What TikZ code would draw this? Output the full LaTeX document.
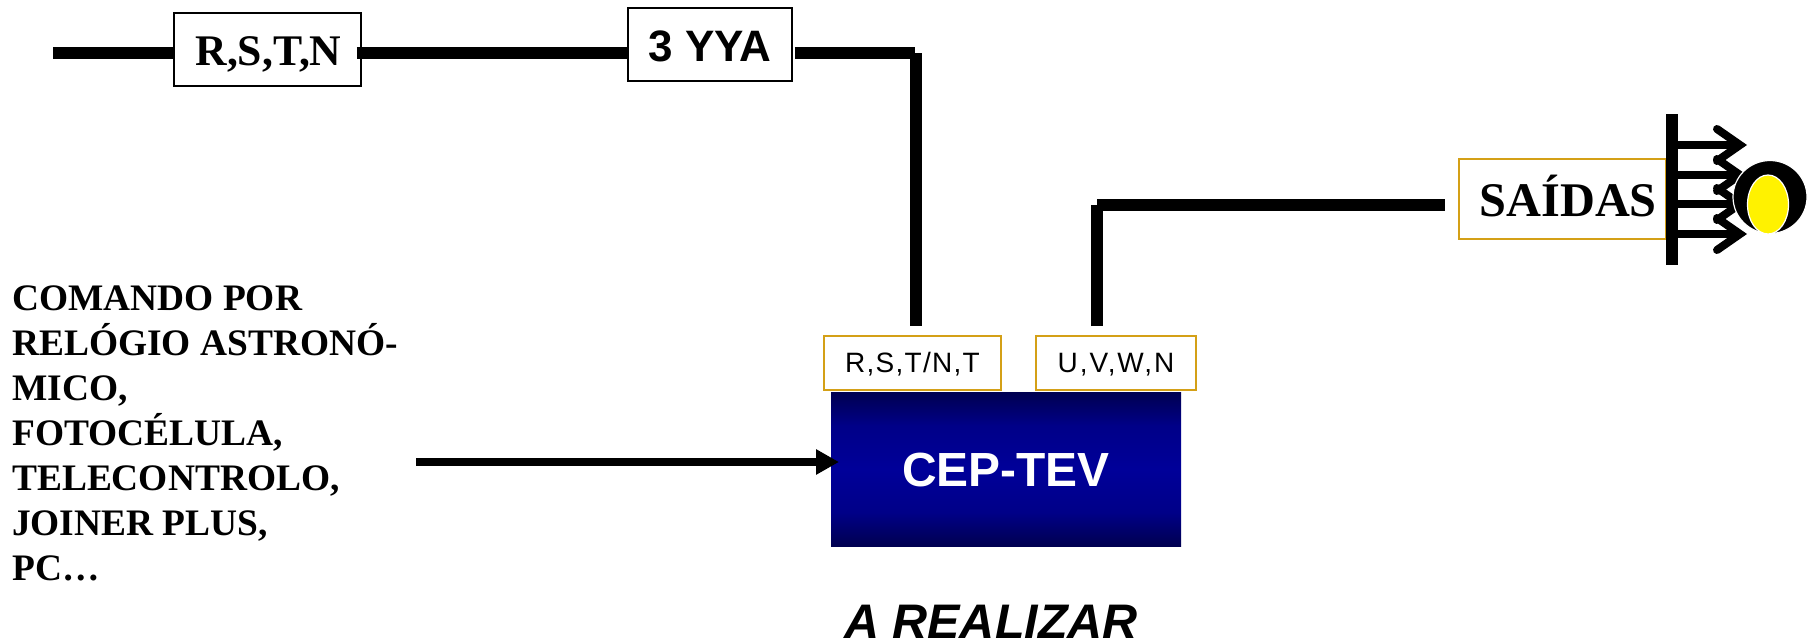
\documentclass[tikz,border=0pt]{standalone}
\usepackage{fontspec}
\setmainfont{Liberation Serif}
\setsansfont{Liberation Sans}
\usetikzlibrary{arrows.meta}
\definecolor{boxgold}{HTML}{D4A017}
\definecolor{cepdark}{HTML}{000050}
\definecolor{cepmid}{HTML}{000088}
\definecolor{cepblue}{HTML}{000099}
\pgfdeclareverticalshading{cepshade}{100bp}{color(0bp)=(cepdark); color(25bp)=(cepdark); color(36bp)=(cepmid); color(50bp)=(cepblue); color(64bp)=(cepmid); color(75bp)=(cepdark); color(100bp)=(cepdark)}
\newcommand{\boxtext}[2]{\smash{\raisebox{#1}{#2}}}
\tikzset{
  busline/.style={line width=12pt},
  blackbox/.style={draw, line width=1.6pt, fill=white, inner sep=0pt, font=\fontsize{43.7}{46}\selectfont\bfseries},
  goldbox/.style={draw=boxgold, line width=1.8pt, fill=white, inner sep=0pt},
  outline/.style={line width=8pt},
  outbarb/.style={line width=8pt, line cap=round, miter limit=20}
}
\begin{document}
\begin{tikzpicture}[x=1pt, y=-1pt]
  \useasboundingbox (0,0) rectangle (1816,640);
  % Boxes
  \node[blackbox, minimum width=187pt, minimum height=73pt] (rstn) at (267.5,49.5) {\hspace*{2pt}\boxtext{-15.5pt}{R,S,T,N}};
  \node[blackbox, minimum width=164pt, minimum height=73pt, font=\fontsize{44}{46}\selectfont\sffamily\bfseries] (yya) at (710,44.5) {\boxtext{-16.5pt}{3 YYA}};
  \node[goldbox, minimum width=177pt, minimum height=54pt, font=\fontsize{28}{32}\selectfont\sffamily\addfontfeatures{LetterSpace=4.5}] (rstin) at (912.5,363) {\boxtext{-9.3pt}{R,S,T/N,T}};
  \node[goldbox, minimum width=160pt, minimum height=54pt, font=\fontsize{28}{32}\selectfont\sffamily\addfontfeatures{LetterSpace=7}] (uvwout) at (1116,363) {\boxtext{-9.3pt}{U,V,W,N}};
  \node[goldbox, minimum width=207pt, minimum height=80pt, font=\fontsize{48.3}{50}\selectfont\bfseries] (saidas) at (1562.5,199) {\hspace*{11.6pt}\boxtext{-17pt}{SAÍDAS}};
  \node[minimum width=350pt, minimum height=154pt, inner sep=0pt, shading=cepshade, text=white, font=\fontsize{47.9}{54}\selectfont\sffamily\bfseries] (cep) at (1006,469) {\boxtext{-17.7pt}{CEP-TEV}};
  % Free ends
  \coordinate (linestart) at (53,53);
  \coordinate (cornerin) at (916,53);
  \coordinate (rstend) at (916,326);
  \coordinate (uvwend) at (1097,326);
  \coordinate (cornerout) at (1097,205);
  \coordinate (outend) at (1445,205);
  \coordinate (cmdstart) at (416,462);
  \coordinate (cmdend) at (839,462);
  % Thick lines
  \draw[busline] (linestart) -- (rstn.west |- linestart);
  \draw[busline] ([xshift=-5pt]rstn.east |- linestart) -- (yya.west |- linestart);
  \draw[busline] ([xshift=2pt]yya.east |- cornerin) -- ([xshift=-1pt]cornerin);
  \draw[busline] (cornerin) -- (rstend);
  \draw[busline] (uvwend) -- (cornerout);
  \draw[busline] (cornerout) -- (outend);
  \draw[line width=8pt, -{Triangle[length=23pt, width=24pt]}] (cmdstart) -- (cmdend);
  % Outputs
  \foreach \y in {145,175,204,234}{
    \draw[outline] (1672,\y) -- (1738,\y);
    \draw[outbarb] (1717,\y-16) -- (1740,\y) -- (1717,\y+16);
  }
  \draw[line width=12pt] (1672,114) -- (1672,265);
  % Lamp
  \draw[white, fill=black, line width=1.2pt] (1770,197) ellipse (37 and 36.5);
  \draw[white, fill=yellow, line width=1.2pt] (1768,204.5) ellipse (20.5 and 29.5);
  % Labels
  \node[inner sep=0pt, align=left, anchor=north west, font=\fontsize{37.4}{44.9}\selectfont\bfseries] (cmdtext) at (12,286) {COMANDO POR\\RELÓGIO ASTRONÓ-\\MICO,\\FOTOCÉLULA,\\TELECONTROLO,\\JOINER PLUS,\\PC…};
  \node[inner sep=0pt, font=\fontsize{48.5}{56}\selectfont\sffamily\bfseries\itshape] (realizar) at (991,621.5) {A REALIZAR};
\end{tikzpicture}
\end{document}
